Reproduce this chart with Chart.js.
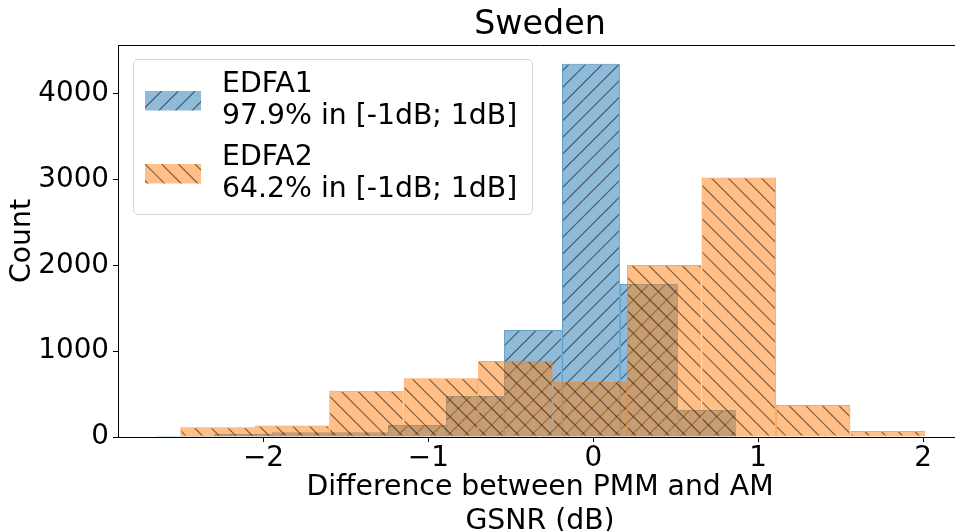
<!DOCTYPE html>
<html lang="en">
<head>
  <meta charset="UTF-8" />
  <title>Sweden</title>
  <script src="https://cdn.jsdelivr.net/npm/chart.js"></script>
  <style>
    html, body { margin: 0; padding: 0; overflow: hidden; background: #fff; }
    .wrap { position: relative; width: 965px; height: 538px; font-family: 'DejaVu Sans', sans-serif; }
    .legend {
      position: absolute; left: 133px; top: 59px; width: 400px; height: 156px;
      box-sizing: border-box; border: 1px solid #d6d6d6; border-radius: 5px;
      background: rgba(255, 255, 255, 0.8);
    }
    .legend canvas { position: absolute; left: 10.5px; }
    .legend .txt { position: absolute; left: 88px; font-size: 28.3px; line-height: 32px; white-space: nowrap; color: #000; }
  </style>
</head>
<body>
  <div class="wrap">
    <canvas id="hist" width="965" height="538"></canvas>
    <div class="legend">
      <canvas id="sw1" width="56" height="20" style="top:30.5px"></canvas>
      <div class="txt" style="top:7.4px">EDFA1<br>97.9% in [-1dB; 1dB]</div>
      <canvas id="sw2" width="56" height="20" style="top:103.5px"></canvas>
      <div class="txt" style="top:80.4px">EDFA2<br>64.2% in [-1dB; 1dB]</div>
    </div>
  </div>
  <script>
    // bin edges and counts
    const blueEdges = [-2.652, -2.300, -1.949, -1.597, -1.245, -0.893, -0.542, -0.190, 0.162, 0.513, 0.865];
    const blueCounts = [12, 35, 55, 55, 140, 478, 1248, 4352, 1784, 315];
    const orangeEdges = [-2.504, -2.053, -1.601, -1.150, -0.698, -0.247, 0.205, 0.656, 1.108, 1.559, 2.011];
    const orangeCounts = [115, 135, 540, 685, 886, 645, 2006, 3024, 373, 70];
    const xTickVals = [-2, -1, 0, 1, 2];
    const yTickVals = [0, 1000, 2000, 3000, 4000];

    const X_MIN = -2.882, X_MAX = 2.236, Y_MAX = 4570;
    const BLUE = 'rgba(31, 119, 180, 0.5)';
    const ORANGE = 'rgba(255, 127, 14, 0.5)';

    function hatch(fill, dir) {
      const s = 100, n = 6;
      const c = document.createElement('canvas');
      c.width = c.height = s;
      const g = c.getContext('2d');
      g.fillStyle = fill;
      g.fillRect(0, 0, s, s);
      g.strokeStyle = 'rgba(0, 0, 0, 0.5)';
      g.lineWidth = 1.2;
      for (let i = -n; i <= 2 * n; i++) {
        const o = i * s / n;
        g.beginPath();
        if (dir > 0) { g.moveTo(o, s); g.lineTo(o + s, 0); }
        else { g.moveTo(o, 0); g.lineTo(o + s, s); }
        g.stroke();
      }
      return g.createPattern(c, 'repeat');
    }

    function toPoints(edges, counts) {
      return counts.map((c, i) => ({ x: (edges[i] + edges[i + 1]) / 2, y: c }));
    }

    function swatch(id, fill, dir) {
      const cv = document.getElementById(id);
      const g = cv.getContext('2d');
      g.fillStyle = hatch(fill, dir);
      g.fillRect(0, 0, 56, 19.5);
    }
    swatch('sw1', BLUE, 1);
    swatch('sw2', ORANGE, -1);

    Chart.defaults.font.family = "'DejaVu Sans', sans-serif";
    Chart.defaults.color = '#000';

    const tickFmt = v => (v < 0 ? '\u2212' + Math.abs(v) : String(v));
    const setTicks = vals => scale => { scale.ticks = vals.map(v => ({ value: v })); };

    new Chart(document.getElementById('hist').getContext('2d'), {
      type: 'bar',
      data: {
        datasets: [{
          label: 'EDFA1',
          data: toPoints(blueEdges, blueCounts),
          xAxisID: 'x',
          backgroundColor: hatch(BLUE, 1),
          borderColor: 'rgba(31, 119, 180, 0.7)',
          borderWidth: 1,
          borderSkipped: false,
          order: 2
        }, {
          label: 'EDFA2',
          data: toPoints(orangeEdges, orangeCounts),
          xAxisID: 'x2',
          backgroundColor: hatch(ORANGE, -1),
          borderColor: 'rgba(255, 127, 14, 0.7)',
          borderWidth: 1,
          borderSkipped: false,
          order: 1
        }]
      },
      options: {
        responsive: false,
        animation: false,
        layout: { padding: { left: 0, right: 3, top: 0, bottom: 0 } },
        datasets: { bar: { barPercentage: 1, categoryPercentage: 1, grouped: false, inflateAmount: 0 } },
        plugins: { legend: { display: false }, tooltip: { enabled: false } },
        scales: {
          x: {
            type: 'linear', position: 'bottom', min: X_MIN, max: X_MAX, offset: false,
            afterBuildTicks: setTicks(xTickVals),
            afterFit: s => { s.height = 101; },
            ticks: { font: { size: 27.8 }, padding: 0, maxRotation: 0, callback: tickFmt },
            grid: { offset: false, drawOnChartArea: false, drawTicks: true, tickLength: 5, color: '#000' },
            border: { display: true, color: '#000', width: 1 },
            title: {
              display: true,
              text: ['Difference between PMM and AM', 'GSNR (dB)'],
              font: { size: 28.3, lineHeight: 1.18 },
              padding: { top: 0, bottom: 0 }
            }
          },
          x2: {
            type: 'linear', position: 'top', min: X_MIN, max: X_MAX, offset: false,
            afterBuildTicks: setTicks(xTickVals),
            afterFit: s => { s.height = 45; },
            ticks: { display: false },
            grid: { display: false, offset: false },
            border: { display: true, color: '#000', width: 1 },
            title: {
              display: true, text: 'Sweden',
              font: { size: 33.3, lineHeight: 1.2 },
              padding: { top: 5, bottom: 0 }
            }
          },
          y: {
            type: 'linear', position: 'left', min: 0, max: Y_MAX,
            afterBuildTicks: setTicks(yTickVals),
            afterFit: s => { s.width = 118; },
            ticks: { font: { size: 27.8 }, padding: 4, callback: v => String(v) },
            grid: { drawOnChartArea: false, drawTicks: true, tickLength: 5, color: '#000' },
            border: { display: true, color: '#000', width: 1 },
            title: {
              display: true, text: 'Count',
              font: { size: 28.3, lineHeight: 1.2 },
              padding: { top: 5.3, bottom: 0 }
            }
          }
        }
      }
    });
  </script>
</body>
</html>
